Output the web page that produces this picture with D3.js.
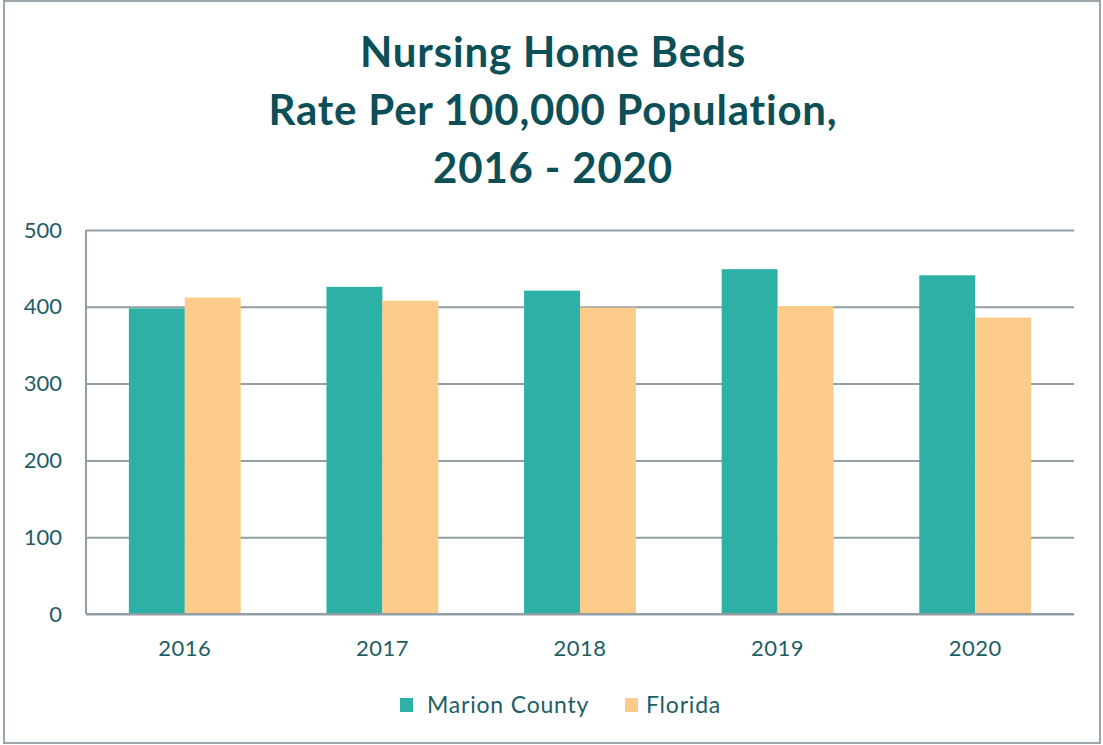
<!DOCTYPE html>
<html>
<head>
<meta charset="utf-8">
<script src="https://cdn.jsdelivr.net/npm/d3@7"></script>
<style>
  body { margin: 0; background: #fff; }
  svg text { font-family: Lato, "Open Sans", sans-serif; }
</style>
</head>
<body>
<svg id="chart" width="1103" height="745"></svg>
<script>
// chart data
var years = ["2016", "2017", "2018", "2019", "2020"];
var seriesNames = ["Marion County", "Florida"];
var marionCounty = [398, 426, 421, 449, 441];
var florida = [412, 408, 399, 401, 386];
var yTicks = [0, 100, 200, 300, 400, 500];
var titleLines = ["Nursing Home Beds", "Rate Per 100,000 Population,", "2016 - 2020"];

var colors = ["#2db0a5", "#fecc8a"];
var textColor = "#1d5e66";
var titleColor = "#0c4f57";
var gridColor = "#919ea3";

var margin = {top: 230, right: 29, bottom: 131, left: 86},
    width = 1103 - margin.left - margin.right,
    height = 745 - margin.top - margin.bottom;

var svg = d3.select("#chart");

// outer frame
svg.append("rect")
    .attr("x", 4).attr("y", 1)
    .attr("width", 1096).attr("height", 742)
    .attr("fill", "#fff")
    .attr("stroke", "#9aa6aa")
    .attr("stroke-width", 2);

// title
svg.append("text")
    .attr("x", 553)
    .attr("text-anchor", "middle")
    .attr("fill", titleColor)
    .style("font-size", "42px")
    .style("font-weight", "bold")
    .style("letter-spacing", "0.8px")
    .selectAll("tspan")
    .data(titleLines)
    .enter().append("tspan")
    .attr("x", 553)
    .attr("y", function(d, i) { return 67 + i * 58; })
    .text(function(d) { return d; });

var g = svg.append("g")
    .attr("transform", "translate(" + margin.left + "," + margin.top + ")");

var x = d3.scaleBand().domain(years).range([0, width]).paddingInner(0.434).paddingOuter(0.217);
var xSub = d3.scaleBand().domain(seriesNames).range([0, x.bandwidth()]);
var y = d3.scaleLinear().domain([0, 500]).range([height, 0]);

// gridlines
g.append("g")
    .call(d3.axisLeft(y).tickValues(yTicks).tickSize(-width).tickFormat(""))
    .call(function(s) { s.select(".domain").remove(); })
    .selectAll("line")
    .attr("stroke", gridColor)
    .attr("stroke-width", 2);

// left axis line
g.append("line")
    .attr("x1", 0).attr("x2", 0)
    .attr("y1", 0).attr("y2", height)
    .attr("stroke", gridColor)
    .attr("stroke-width", 2);

// bars
var rows = years.map(function(yr, i) {
    return {year: yr, values: [marionCounty[i], florida[i]]};
});

g.selectAll(".grp")
    .data(rows)
    .enter().append("g")
    .attr("class", "grp")
    .attr("transform", function(d) { return "translate(" + x(d.year) + ",0)"; })
    .selectAll("rect")
    .data(function(d) { return d.values.map(function(v, j) { return {name: seriesNames[j], value: v, i: j}; }); })
    .enter().append("rect")
    .attr("x", function(d) { return xSub(d.name); })
    .attr("y", function(d) { return y(d.value); })
    .attr("width", xSub.bandwidth())
    .attr("height", function(d) { return height - y(d.value); })
    .attr("fill", function(d) { return colors[d.i]; });

// baseline redrawn over bars
g.append("line")
    .attr("x1", 0).attr("x2", width)
    .attr("y1", height).attr("y2", height)
    .attr("stroke", gridColor)
    .attr("stroke-width", 2);

// y axis labels
g.append("g")
    .call(d3.axisLeft(y).tickValues(yTicks).tickSize(0).tickPadding(24))
    .call(function(s) { s.select(".domain").remove(); })
    .selectAll("text")
    .attr("fill", textColor)
    .style("font-size", "22px")
    .style("font-family", "Lato, 'Open Sans', sans-serif");

// x axis labels
g.append("g")
    .attr("transform", "translate(0," + height + ")")
    .call(d3.axisBottom(x).tickSize(0).tickPadding(26))
    .call(function(s) { s.select(".domain").remove(); })
    .selectAll("text")
    .attr("fill", textColor)
    .style("font-size", "22px")
    .style("letter-spacing", "0.5px")
    .style("font-family", "Lato, 'Open Sans', sans-serif");

// legend
var legendX = [400, 625];
var legendTextX = [27, 21];
var legend = svg.selectAll(".legend")
    .data(seriesNames)
    .enter().append("g")
    .attr("class", "legend")
    .attr("transform", function(d, i) { return "translate(" + legendX[i] + ",698)"; });

legend.append("rect")
    .attr("width", 13).attr("height", 14)
    .attr("fill", function(d, i) { return colors[i]; });

legend.append("text")
    .attr("x", function(d, i) { return legendTextX[i]; })
    .attr("y", 7)
    .attr("dy", "0.35em")
    .attr("fill", textColor)
    .style("font-size", "23px")
    .style("letter-spacing", "0.8px")
    .text(function(d) { return d; });
</script>
</body>
</html>
